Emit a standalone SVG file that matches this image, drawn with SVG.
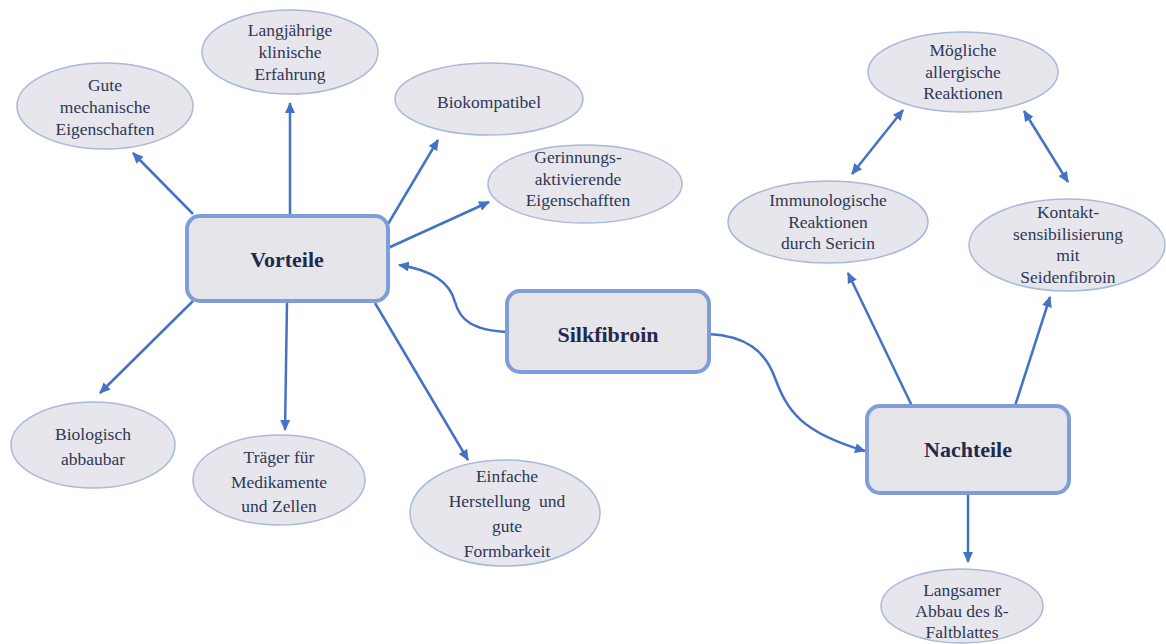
<svg xmlns="http://www.w3.org/2000/svg" width="1166" height="644" viewBox="0 0 1166 644">
<defs>
<marker id="ah" markerUnits="userSpaceOnUse" markerWidth="12" markerHeight="10" refX="10" refY="5" orient="auto-start-reverse">
<path d="M0,0 L11,5 L0,10 Z" fill="#4472c4"/>
</marker>
<style>
.bg{fill:#ffffff}
.box{fill:#e6e6ea;stroke:#7f9ed8;stroke-width:4}
.ell{fill:#e6e6ec;stroke:#a9b9d8;stroke-width:1.5}
text{font-family:"Liberation Serif",Tinos,"Noto Serif","DejaVu Serif",FreeSerif,"Nimbus Roman","Times New Roman",Times,serif}
.t{font-size:17.5px;fill:#2e3756;text-anchor:middle}
.b{font-size:22px;font-weight:bold;fill:#1f2a4c;text-anchor:middle}
.c{fill:none;stroke:#4472c4;stroke-width:2.5;marker-end:url(#ah)}
.d{fill:none;stroke:#4472c4;stroke-width:2.5;marker-end:url(#ah);marker-start:url(#ah)}
</style>
</defs>
<rect class="bg" x="0" y="0" width="1166" height="644"/>
<g id="connectors">
<line class="c" x1="193" y1="214" x2="133" y2="153"/>
<line class="c" x1="290" y1="216" x2="290" y2="103"/>
<line class="c" x1="388" y1="224" x2="438" y2="140"/>
<line class="c" x1="388" y1="248" x2="489" y2="202"/>
<line class="c" x1="193" y1="301" x2="100" y2="393"/>
<line class="c" x1="287" y1="302" x2="285" y2="430"/>
<line class="c" x1="375" y1="303" x2="468" y2="460"/>
<path class="c" d="M507,332 C472,330 460,320 455,302 C450,282 432,270 399,265"/>
<path class="c" d="M709,334 C745,336 765,350 775,378 C787,410 800,432 865,451"/>
<line class="c" x1="912" y1="406" x2="848" y2="273"/>
<line class="c" x1="1015" y1="406" x2="1050" y2="297"/>
<line class="c" x1="968" y1="494" x2="968" y2="562"/>
<line class="d" x1="852" y1="174" x2="903" y2="110"/>
<line class="d" x1="1024" y1="111" x2="1068" y2="182"/>
</g>
<g id="vorteile">
<rect class="box" x="187" y="216" width="201" height="85" rx="13"/>
<text class="b" x="287" y="267">Vorteile</text>
</g>
<g id="silkfibroin">
<rect class="box" x="507" y="291" width="202" height="81" rx="13"/>
<text class="b" x="608" y="342">Silkfibroin</text>
</g>
<g id="nachteile">
<rect class="box" x="867" y="406" width="202" height="87" rx="13"/>
<text class="b" x="968" y="457">Nachteile</text>
</g>
<g id="gute">
<ellipse class="ell" cx="105" cy="106" rx="88" ry="43"/>
<text class="t" x="105" y="91">Gute<tspan x="105" dy="22">mechanische</tspan><tspan x="105" dy="22">Eigenschaften</tspan></text>
</g>
<g id="langjaehrige">
<ellipse class="ell" cx="290" cy="52" rx="88" ry="42"/>
<text class="t" x="290" y="36">Langjährige<tspan x="290" dy="22">klinische</tspan><tspan x="290" dy="22">Erfahrung</tspan></text>
</g>
<g id="biokompatibel">
<ellipse class="ell" cx="489" cy="99" rx="94" ry="36"/>
<text class="t" x="489" y="108">Biokompatibel</text>
</g>
<g id="gerinnung">
<ellipse class="ell" cx="585" cy="184" rx="97" ry="39"/>
<text class="t" x="578" y="163">Gerinnungs-<tspan x="578" dy="21.5">aktivierende</tspan><tspan x="578" dy="21.5">Eigenschafften</tspan></text>
</g>
<g id="biologisch">
<ellipse class="ell" cx="93" cy="445" rx="82" ry="43"/>
<text class="t" x="93" y="440">Biologisch<tspan x="93" dy="24.5">abbaubar</tspan></text>
</g>
<g id="traeger">
<ellipse class="ell" cx="279" cy="480" rx="86" ry="45"/>
<text class="t" x="279" y="463">Träger für<tspan x="279" dy="24.5">Medikamente</tspan><tspan x="279" dy="24.5">und Zellen</tspan></text>
</g>
<g id="einfache">
<ellipse class="ell" cx="505" cy="513" rx="95" ry="53"/>
<text class="t" x="507" y="482">Einfache<tspan x="507" dy="25">Herstellung&#160; und</tspan><tspan x="507" dy="25">gute</tspan><tspan x="507" dy="25">Formbarkeit</tspan></text>
</g>
<g id="moegliche">
<ellipse class="ell" cx="963" cy="72" rx="95" ry="40"/>
<text class="t" x="963" y="56">Mögliche<tspan x="963" dy="21.5">allergische</tspan><tspan x="963" dy="21.5">Reaktionen</tspan></text>
</g>
<g id="immunologische">
<ellipse class="ell" cx="828" cy="222" rx="100" ry="41"/>
<text class="t" x="828" y="206">Immunologische<tspan x="828" dy="21.5">Reaktionen</tspan><tspan x="828" dy="21.5">durch Sericin</tspan></text>
</g>
<g id="kontakt">
<ellipse class="ell" cx="1067" cy="245" rx="98" ry="46"/>
<text class="t" x="1068" y="218">Kontakt-<tspan x="1068" dy="21.5">sensibilisierung</tspan><tspan x="1068" dy="21.5">mit</tspan><tspan x="1068" dy="21.5">Seidenfibroin</tspan></text>
</g>
<g id="langsamer">
<ellipse class="ell" cx="962" cy="606" rx="81" ry="37"/>
<text class="t" x="962" y="596">Langsamer<tspan x="962" dy="21">Abbau des ß-</tspan><tspan x="962" dy="21">Faltblattes</tspan></text>
</g>
</svg>
